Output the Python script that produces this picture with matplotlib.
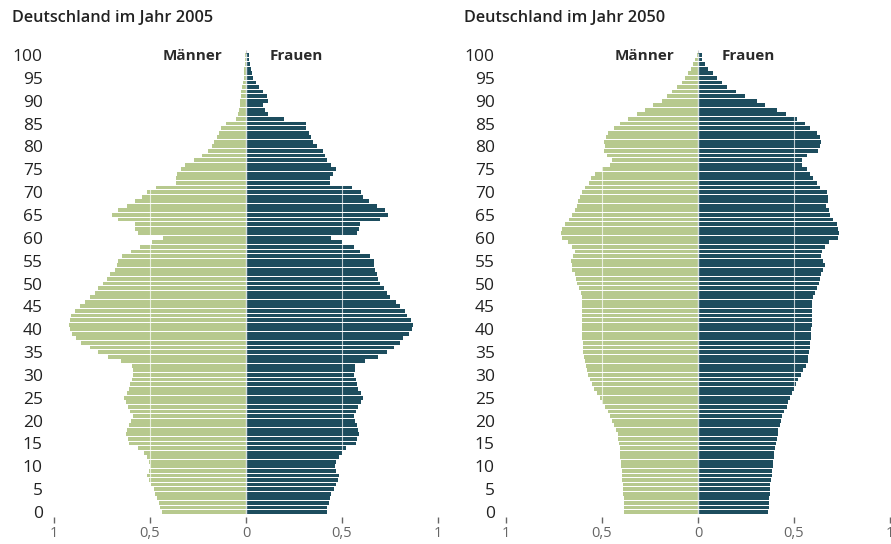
import numpy as np
import matplotlib
matplotlib.use("Agg")
import matplotlib.pyplot as plt

plt.rcParams['font.family'] = ['Open Sans', 'DejaVu Sans']

ages = np.arange(0, 101)
age_ticks = np.arange(0, 101, 5)
x_ticks = [-1, -0.5, 0, 0.5, 1]
x_labels = ['1', '0,5', '0', '0,5', '1']
titles = ['Deutschland im Jahr 2005', 'Deutschland im Jahr 2050']

# Mio. Personen je Altersjahr (0..100)
m2005 = [0.44, 0.446, 0.455, 0.463, 0.472, 0.48, 0.493, 0.507, 0.516, 0.507,
         0.498, 0.507, 0.516, 0.533, 0.56, 0.608, 0.615, 0.626, 0.62, 0.608,
         0.598, 0.59, 0.603, 0.615, 0.626, 0.633, 0.62, 0.608, 0.603, 0.594,
         0.586, 0.586, 0.594, 0.65, 0.717, 0.77, 0.813, 0.857, 0.883, 0.905,
         0.918, 0.923, 0.918, 0.91, 0.89, 0.865, 0.84, 0.813, 0.787, 0.77,
         0.743, 0.725, 0.708, 0.68, 0.673, 0.665, 0.647, 0.60, 0.55, 0.49,
         0.43, 0.563, 0.577, 0.577, 0.668, 0.696, 0.665, 0.62, 0.577, 0.54,
         0.515, 0.47, 0.367, 0.363, 0.358, 0.34, 0.32, 0.27, 0.227, 0.20,
         0.175, 0.166, 0.15, 0.14, 0.13, 0.105, 0.052, 0.04, 0.035, 0.03,
         0.03, 0.028, 0.026, 0.02, 0.017, 0.013, 0.01, 0.008, 0.006, 0.004,
         0.003]
f2005 = [0.42, 0.423, 0.43, 0.437, 0.445, 0.46, 0.47, 0.48, 0.486, 0.47,
         0.463, 0.47, 0.486, 0.50, 0.52, 0.573, 0.577, 0.59, 0.585, 0.577,
         0.57, 0.56, 0.573, 0.585, 0.60, 0.61, 0.60, 0.585, 0.58, 0.573,
         0.56, 0.57, 0.57, 0.62, 0.685, 0.734, 0.77, 0.80, 0.82, 0.85,
         0.865, 0.87, 0.86, 0.84, 0.83, 0.80, 0.78, 0.75, 0.734, 0.717,
         0.70, 0.69, 0.68, 0.673, 0.668, 0.665, 0.647, 0.595, 0.56, 0.50,
         0.445, 0.577, 0.59, 0.595, 0.70, 0.74, 0.725, 0.68, 0.64, 0.61,
         0.60, 0.55, 0.44, 0.44, 0.455, 0.47, 0.445, 0.42, 0.41, 0.40,
         0.37, 0.35, 0.34, 0.33, 0.315, 0.31, 0.2, 0.115, 0.10, 0.09,
         0.115, 0.11, 0.09, 0.07, 0.05, 0.035, 0.03, 0.025, 0.02, 0.016,
         0.014]
m2050 = [0.384, 0.384, 0.385, 0.387, 0.389, 0.39, 0.392, 0.394, 0.396, 0.398,
         0.40, 0.403, 0.405, 0.406, 0.408, 0.411, 0.415, 0.418, 0.429, 0.436,
         0.45, 0.458, 0.47, 0.484, 0.498, 0.51, 0.528, 0.54, 0.554, 0.563,
         0.571, 0.58, 0.585, 0.589, 0.594, 0.597, 0.599, 0.60, 0.602, 0.602,
         0.602, 0.602, 0.602, 0.602, 0.602, 0.602, 0.602, 0.606, 0.61, 0.62,
         0.632, 0.637, 0.64, 0.655, 0.658, 0.661, 0.65, 0.64, 0.655, 0.675,
         0.71, 0.714, 0.71, 0.693, 0.672, 0.655, 0.64, 0.632, 0.627, 0.615,
         0.602, 0.588, 0.568, 0.557, 0.536, 0.50, 0.458, 0.45, 0.476, 0.488,
         0.484, 0.488, 0.48, 0.467, 0.44, 0.406, 0.363, 0.32, 0.276, 0.233,
         0.19, 0.163, 0.137, 0.11, 0.085, 0.068, 0.05, 0.036, 0.024, 0.016,
         0.007]
f2050 = [0.366, 0.368, 0.37, 0.372, 0.373, 0.375, 0.377, 0.38, 0.384, 0.387,
         0.389, 0.392, 0.394, 0.398, 0.40, 0.404, 0.41, 0.415, 0.418, 0.427,
         0.432, 0.44, 0.45, 0.462, 0.47, 0.479, 0.488, 0.50, 0.51, 0.523,
         0.536, 0.549, 0.56, 0.571, 0.575, 0.578, 0.583, 0.583, 0.589, 0.589,
         0.589, 0.592, 0.595, 0.592, 0.592, 0.592, 0.595, 0.60, 0.61, 0.618,
         0.63, 0.635, 0.64, 0.653, 0.66, 0.653, 0.64, 0.644, 0.66, 0.68,
         0.73, 0.734, 0.73, 0.722, 0.705, 0.687, 0.68, 0.665, 0.675, 0.675,
         0.67, 0.635, 0.618, 0.60, 0.583, 0.566, 0.54, 0.54, 0.566, 0.623,
         0.635, 0.64, 0.635, 0.618, 0.583, 0.557, 0.514, 0.46, 0.41, 0.35,
         0.305, 0.245, 0.2, 0.15, 0.123, 0.097, 0.08, 0.054, 0.036, 0.023,
         0.02]

green = '#b7c98e'
teal = '#1d4d5e'

W, H = 891, 544
fig = plt.figure(figsize=(W / 100, H / 100), dpi=100)

scale = 4.57  # px per year
y_bottom, y_top = -1.2, 101.2
for i, (men, women, title) in enumerate([(m2005, f2005, titles[0]),
                                          (m2050, f2050, titles[1])]):
    left_px = 54 + i * 452
    zero_y = 512
    bottom_px = zero_y - scale * y_bottom
    top_px = zero_y - scale * y_top
    ax = fig.add_axes([left_px / W, 1 - bottom_px / H, 384 / W,
                       (bottom_px - top_px) / H])
    ax.barh(ages, -np.array(men), height=0.84, color=green, zorder=2)
    ax.barh(ages, women, height=0.84, color=teal, zorder=2)
    ax.vlines([-0.5, 0.5], -0.5, 100.5, color='white', lw=0.8, alpha=0.7, zorder=3)
    ax.vlines(0, -0.5, 100.5, color='white', lw=1.0, alpha=0.8, zorder=3)
    ax.vlines(0, 99, y_top, color='#cccccc', lw=0.8, zorder=1)
    ax.set_xlim(-1, 1)
    ax.set_ylim(y_bottom, y_top)
    for s in ax.spines.values():
        s.set_visible(False)
    ax.set_xticks(x_ticks)
    ax.set_xticklabels(x_labels)
    ax.tick_params(axis='x', length=4.5, width=1, color='#666666',
                   labelcolor='#666666', labelsize=10.5, pad=1.5)
    ax.set_yticks(age_ticks)
    ax.set_yticklabels([str(a) for a in age_ticks])
    ax.tick_params(axis='y', length=0, pad=8, labelsize=12.5, labelcolor='#222222')
    for lab in ax.get_yticklabels():
        lab.set_fontweight('medium')
    ax.text(-0.125, 99.8, 'Männer', ha='right', va='center', fontsize=11,
            fontweight='bold', color='#2b2b2b')
    ax.text(0.125, 99.8, 'Frauen', ha='left', va='center', fontsize=11,
            fontweight='bold', color='#2b2b2b')
    fig.text((12 + i * 452) / W, 1 - 18 / H, title, ha='left', va='center',
             fontsize=11.7, fontweight='semibold', color='#222222')

fig.savefig('out.png', dpi=100)
